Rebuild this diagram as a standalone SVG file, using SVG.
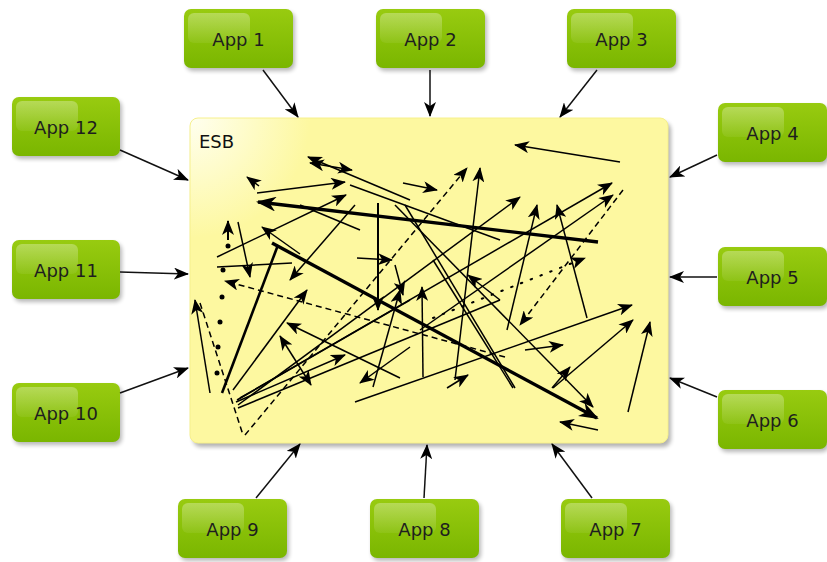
<svg xmlns="http://www.w3.org/2000/svg" width="827" height="562" viewBox="0 0 827 562">
<defs>
<style>
.app rect.b{fill:url(#g);}
.app rect.gl{fill:url(#gl);}
.app rect.sh{fill:#000;opacity:0.28;filter:url(#blur);}
.app text{font-family:"DejaVu Sans",sans-serif;font-size:18px;fill:#1e1e1e;text-anchor:middle;}
.c line{stroke:#111;stroke-width:1.5;marker-end:url(#ao);}
.i line,.i path{stroke:#000;stroke-width:1.5;fill:none;}
.i .a{marker-end:url(#ai);}
.i .t{stroke-width:3.4;}
.i .ta{stroke-width:3.4;marker-end:url(#at);}
.i .d{stroke-dasharray:6 4;}
.i .o{stroke-dasharray:1.5 9;stroke-linecap:round;stroke-width:2;}
.i .b2{marker-start:url(#ai);}
</style>
<linearGradient id="g" x1="0" y1="0" x2="0" y2="1">
<stop offset="0" stop-color="#98cb10"/>
<stop offset="1" stop-color="#7ab600"/>
</linearGradient>
<linearGradient id="gl" x1="0" y1="0" x2="0" y2="1">
<stop offset="0" stop-color="#ffffff" stop-opacity="0.3"/>
<stop offset="1" stop-color="#ffffff" stop-opacity="0.06"/>
</linearGradient>
<radialGradient id="y" cx="190" cy="118" r="120" gradientUnits="userSpaceOnUse">
<stop offset="0" stop-color="#fffff0"/>
<stop offset="1" stop-color="#fdf8a0"/>
</radialGradient>
<filter id="blur" x="-20%" y="-20%" width="140%" height="140%"><feGaussianBlur stdDeviation="2"/></filter>
<marker id="ao" viewBox="0 0 15 12" refX="14" refY="6" markerWidth="15" markerHeight="12" markerUnits="userSpaceOnUse" orient="auto"><path d="M0,0 L15,6 L0,12 L4,6 z" fill="#000"/></marker>
<marker id="ai" viewBox="0 0 15 12" refX="14" refY="6" markerWidth="15" markerHeight="12" markerUnits="userSpaceOnUse" orient="auto-start-reverse"><path d="M0,0 L15,6 L0,12 L4,6 z" fill="#000"/></marker>
<marker id="at" viewBox="0 0 20 15" refX="18" refY="7.5" markerWidth="20" markerHeight="15" markerUnits="userSpaceOnUse" orient="auto"><path d="M0,0 L20,7.5 L0,15 L6,7.5 z" fill="#000"/></marker>
</defs>
<rect width="827" height="562" fill="#ffffff"/>

<g id="esb">
<rect x="193" y="122" width="478" height="325" rx="8" fill="#000" opacity="0.3" filter="url(#blur)"/>
<rect x="190" y="118" width="478" height="325" rx="8" fill="url(#y)" stroke="#f6f08c" stroke-width="1"/>
<text x="199" y="148" font-family="DejaVu Sans,sans-serif" font-size="18" fill="#111">ESB</text>
</g>

<g id="app1" class="app"><rect class="sh" x="186" y="12" width="109" height="59" rx="7"/><rect class="b" x="184" y="9" width="109" height="59" rx="7"/><rect class="gl" x="188" y="13" width="62" height="30" rx="6"/><text x="238.5" y="45.5">App 1</text></g>
<g id="app2" class="app"><rect class="sh" x="378" y="12" width="109" height="59" rx="7"/><rect class="b" x="376" y="9" width="109" height="59" rx="7"/><rect class="gl" x="380" y="13" width="62" height="30" rx="6"/><text x="430.5" y="45.5">App 2</text></g>
<g id="app3" class="app"><rect class="sh" x="569" y="12" width="109" height="59" rx="7"/><rect class="b" x="567" y="9" width="109" height="59" rx="7"/><rect class="gl" x="571" y="13" width="62" height="30" rx="6"/><text x="621.5" y="45.5">App 3</text></g>
<g id="app4" class="app"><rect class="sh" x="720" y="106" width="109" height="59" rx="7"/><rect class="b" x="718" y="103" width="109" height="59" rx="7"/><rect class="gl" x="722" y="107" width="62" height="30" rx="6"/><text x="772.5" y="139.5">App 4</text></g>
<g id="app5" class="app"><rect class="sh" x="720" y="250" width="109" height="59" rx="7"/><rect class="b" x="718" y="247" width="109" height="59" rx="7"/><rect class="gl" x="722" y="251" width="62" height="30" rx="6"/><text x="772.5" y="283.5">App 5</text></g>
<g id="app6" class="app"><rect class="sh" x="720" y="393" width="109" height="59" rx="7"/><rect class="b" x="718" y="390" width="109" height="59" rx="7"/><rect class="gl" x="722" y="394" width="62" height="30" rx="6"/><text x="772.5" y="426.5">App 6</text></g>
<g id="app7" class="app"><rect class="sh" x="563" y="502" width="109" height="59" rx="7"/><rect class="b" x="561" y="499" width="109" height="59" rx="7"/><rect class="gl" x="565" y="503" width="62" height="30" rx="6"/><text x="615.5" y="535.5">App 7</text></g>
<g id="app8" class="app"><rect class="sh" x="372" y="502" width="109" height="59" rx="7"/><rect class="b" x="370" y="499" width="109" height="59" rx="7"/><rect class="gl" x="374" y="503" width="62" height="30" rx="6"/><text x="424.5" y="535.5">App 8</text></g>
<g id="app9" class="app"><rect class="sh" x="180" y="502" width="109" height="59" rx="7"/><rect class="b" x="178" y="499" width="109" height="59" rx="7"/><rect class="gl" x="182" y="503" width="62" height="30" rx="6"/><text x="232.5" y="535.5">App 9</text></g>
<g id="app10" class="app"><rect class="sh" x="14" y="386" width="108" height="59" rx="7"/><rect class="b" x="12" y="383" width="108" height="59" rx="7"/><rect class="gl" x="16" y="387" width="62" height="30" rx="6"/><text x="66" y="419.5">App 10</text></g>
<g id="app11" class="app"><rect class="sh" x="14" y="243" width="108" height="59" rx="7"/><rect class="b" x="12" y="240" width="108" height="59" rx="7"/><rect class="gl" x="16" y="244" width="62" height="30" rx="6"/><text x="66" y="276.5">App 11</text></g>
<g id="app12" class="app"><rect class="sh" x="14" y="100" width="108" height="59" rx="7"/><rect class="b" x="12" y="97" width="108" height="59" rx="7"/><rect class="gl" x="16" y="101" width="62" height="30" rx="6"/><text x="66" y="133.5">App 12</text></g>

<g id="connectors" class="c">
<line x1="263" y1="70" x2="298" y2="117"/>
<line x1="430" y1="70" x2="430" y2="116"/>
<line x1="597" y1="70" x2="560" y2="117"/>
<line x1="717" y1="155" x2="670" y2="177"/>
<line x1="717" y1="277" x2="670" y2="277"/>
<line x1="717" y1="397" x2="670" y2="378"/>
<line x1="592" y1="498" x2="552" y2="444"/>
<line x1="424" y1="498" x2="427" y2="445"/>
<line x1="256" y1="498" x2="300" y2="444"/>
<line x1="120" y1="393" x2="188" y2="368"/>
<line x1="120" y1="272" x2="188" y2="274"/>
<line x1="120" y1="150" x2="188" y2="180"/>
</g>

<g id="esb-traffic" class="i">
<line class="ta" x1="598" y1="242" x2="258" y2="202"/>
<line class="ta" x1="272" y1="243" x2="597" y2="418"/>
<line class="t" x1="222" y1="393" x2="278" y2="245" style="stroke-width:2.6"/>
<line class="a" x1="378" y1="203" x2="378" y2="310" style="stroke-width:2"/>
<line class="a" x1="620" y1="162" x2="515" y2="145"/>
<line class="a" x1="403" y1="183" x2="437" y2="190"/>
<line class="a d" x1="245" y1="435" x2="467" y2="168"/>
<line class="a" x1="455" y1="380" x2="480" y2="168"/>
<line class="a b2" x1="310" y1="163" x2="352" y2="170"/>
<line class="a" x1="410" y1="200" x2="308" y2="157"/>
<line class="a" x1="257" y1="193" x2="345" y2="182"/>
<line class="a" x1="217" y1="257" x2="346" y2="195"/>
<line class="a" x1="259" y1="186" x2="247" y2="177"/>
<line class="a" x1="228" y1="240" x2="228" y2="221" style="stroke-width:2"/>
<line class="a" x1="238" y1="222" x2="250" y2="277"/>
<line class="a" x1="355" y1="205" x2="290" y2="280"/>
<line x1="217" y1="267" x2="292" y2="263"/>
<line class="a" x1="300" y1="254" x2="262" y2="227"/>
<line class="a" x1="357" y1="258" x2="392" y2="260"/>
<line class="a d" x1="505" y1="357" x2="225" y2="281"/>
<line class="a" x1="210" y1="393" x2="195" y2="300"/>
<line class="d" x1="200" y1="303" x2="243" y2="435"/>
<line class="a" x1="233" y1="390" x2="307" y2="290"/>
<line class="a" x1="373" y1="387" x2="400" y2="290"/>
<line class="a b2" x1="280" y1="336" x2="311" y2="385"/>
<line class="a" x1="400" y1="378" x2="287" y2="323"/>
<line class="a" x1="236" y1="402" x2="345" y2="355"/>
<line class="a" x1="238" y1="405" x2="520" y2="197"/>
<line class="a" x1="240" y1="398" x2="612" y2="183"/>
<line x1="237" y1="400" x2="410" y2="300"/>
<line x1="238" y1="408" x2="500" y2="300"/>
<line class="a" x1="410" y1="347" x2="360" y2="383"/>
<line class="a" x1="355" y1="402" x2="632" y2="305"/>
<line class="a" x1="553" y1="388" x2="633" y2="320"/>
<line class="a" x1="628" y1="412" x2="650" y2="322"/>
<line class="a" x1="525" y1="350" x2="563" y2="345"/>
<line class="a" x1="552" y1="388" x2="570" y2="367"/>
<line class="a" x1="395" y1="205" x2="593" y2="407"/>
<line class="a" x1="598" y1="430" x2="560" y2="422"/>
<line class="a" x1="447" y1="388" x2="468" y2="375"/>
<line class="a" x1="423" y1="377" x2="422" y2="287"/>
<line x1="433" y1="260" x2="513" y2="388"/>
<line class="a" x1="507" y1="330" x2="537" y2="205"/>
<line class="a" x1="587" y1="318" x2="557" y2="205"/>
<line class="a d" x1="623" y1="190" x2="520" y2="325"/>
<line class="a" x1="420" y1="330" x2="613" y2="195"/>
<line class="a o" x1="433" y1="318" x2="585" y2="258"/>
<line x1="350" y1="185" x2="500" y2="240"/>
<line class="a" x1="395" y1="265" x2="403" y2="295"/>
<line class="a" x1="500" y1="300" x2="468" y2="275"/>
<line x1="300" y1="205" x2="360" y2="230"/>
<line x1="405" y1="205" x2="515" y2="388"/>
<circle cx="228" cy="246" r="2.5"/>
<circle cx="223" cy="270" r="2.5"/>
<circle cx="222" cy="297" r="2.5"/>
<circle cx="220" cy="322" r="2.5"/>
<circle cx="218" cy="347" r="2.5"/>
<circle cx="217" cy="373" r="2.5"/>
</g>
</svg>
